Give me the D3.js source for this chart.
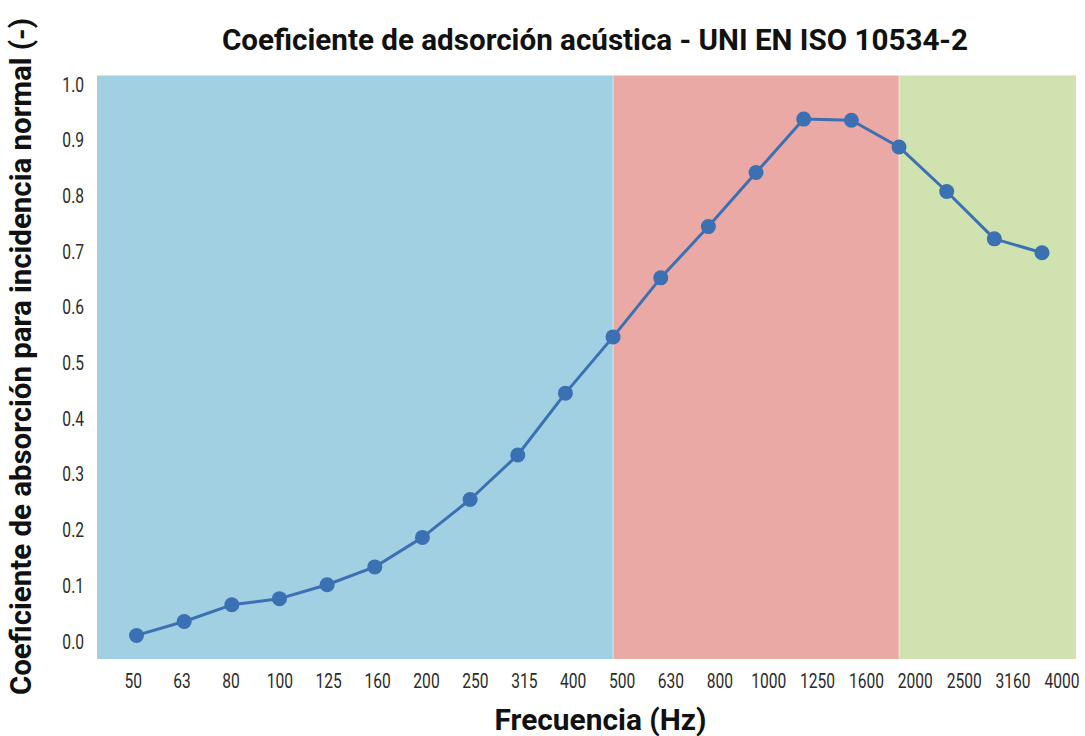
<!DOCTYPE html>
<html>
<head>
<meta charset="utf-8">
<script src="https://cdn.jsdelivr.net/npm/d3@7"></script>
<style>
  html, body { margin: 0; padding: 0; background: #fff; }
  svg { display: block; font-family: Roboto, "Liberation Sans", sans-serif; }
</style>
</head>
<body>
<svg id="chart" width="1085" height="736"></svg>
<script>
// Frequency bands (Hz) and measured normal-incidence absorption coefficient
const frequencies = ["50", "63", "80", "100", "125", "160", "200", "250", "315", "400",
                     "500", "630", "800", "1000", "1250", "1600", "2000", "2500", "3160", "4000"];
const absorption = [0.010, 0.035, 0.065, 0.076, 0.101, 0.133, 0.186, 0.254, 0.334, 0.445,
                    0.546, 0.652, 0.744, 0.841, 0.937, 0.935, 0.887, 0.807, 0.722, 0.697];
const yTicks = [0, 0.1, 0.2, 0.3, 0.4, 0.5, 0.6, 0.7, 0.8, 0.9, 1.0];

// Shaded frequency ranges: low / mid / high
const rangeEdges = ["500", "2000"];
const rangeColors = ["#a0d0e2", "#eba9a5", "#cfe2b0"];

const titleText = "Coeficiente de adsorción acústica - UNI EN ISO 10534-2";
const xTitleText = "Frecuencia (Hz)";
const yTitleText = "Coeficiente de absorción para incidencia normal (-)";

const svg = d3.select("#chart");
const plot = { left: 97, right: 1076, top: 75.5, bottom: 659 };

const x = d3.scalePoint().domain(frequencies).range([136.5, 1042]);
const xLabels = d3.scalePoint().domain(frequencies).range([132.7, 1061.5]);
const y = d3.scaleLinear().domain([0, 1]).range([641, 84]);

// background ranges
const edges = [plot.left, ...rangeEdges.map(f => x(f)), plot.right];
svg.append("g").selectAll("rect")
  .data(rangeColors)
  .join("rect")
  .attr("x", (d, i) => edges[i])
  .attr("width", (d, i) => edges[i + 1] - edges[i])
  .attr("y", plot.top)
  .attr("height", plot.bottom - plot.top)
  .attr("fill", d => d);

svg.append("g").selectAll("line")
  .data(rangeEdges)
  .join("line")
  .attr("x1", d => x(d)).attr("x2", d => x(d))
  .attr("y1", plot.top).attr("y2", plot.bottom)
  .attr("stroke", "#fff").attr("stroke-opacity", 0.5).attr("stroke-width", 1);

// y axis labels (horizontally condensed around their anchor)
const yAxis = svg.append("g")
  .attr("transform", `translate(84,0)`)
  .call(d3.axisLeft(y).tickValues(yTicks).tickFormat(d3.format(".1f")).tickSize(0).tickPadding(0));
yAxis.select(".domain").remove();
yAxis.selectAll("text")
  .attr("font-family", "Roboto, sans-serif")
  .attr("font-size", 19.5)
  .attr("fill", "#2b2b2b")
  .attr("x", 0)
  .attr("dy", "0.36em")
  .attr("transform", "scale(0.8,1)");

// x axis labels
const xAxis = svg.append("g")
  .attr("transform", `translate(0,687.5)`)
  .call(d3.axisBottom(xLabels).tickSize(0).tickPadding(0));
xAxis.select(".domain").remove();
xAxis.selectAll("text")
  .attr("font-family", "Roboto, sans-serif")
  .attr("font-size", 19.5)
  .attr("fill", "#2b2b2b")
  .attr("y", 0)
  .attr("dy", null)
  .attr("transform", "scale(0.8,1)");

// absorption curve
const line = d3.line().x((d, i) => x(frequencies[i])).y(d => y(d));
svg.append("path")
  .datum(absorption)
  .attr("d", line)
  .attr("fill", "none")
  .attr("stroke", "#3b70b3")
  .attr("stroke-width", 3)
  .attr("stroke-linejoin", "round");

svg.append("g").selectAll("circle")
  .data(absorption)
  .join("circle")
  .attr("cx", (d, i) => x(frequencies[i]))
  .attr("cy", d => y(d))
  .attr("r", 7.5)
  .attr("fill", "#3b70b3");

// titles
svg.append("text")
  .attr("x", 595).attr("y", 50)
  .attr("text-anchor", "middle")
  .attr("font-size", 29.5).attr("font-weight", 700).attr("fill", "#111")
  .attr("textLength", 746).attr("lengthAdjust", "spacingAndGlyphs")
  .text(titleText);

svg.append("text")
  .attr("x", 600.5).attr("y", 730)
  .attr("text-anchor", "middle")
  .attr("font-size", 29.5).attr("font-weight", 700).attr("fill", "#111")
  .attr("textLength", 212).attr("lengthAdjust", "spacingAndGlyphs")
  .text(xTitleText);

svg.append("text")
  .attr("transform", "translate(31,356.5) rotate(-90)")
  .attr("text-anchor", "middle")
  .attr("font-size", 29.5).attr("font-weight", 700).attr("fill", "#111")
  .attr("textLength", 677).attr("lengthAdjust", "spacingAndGlyphs")
  .text(yTitleText);
</script>
</body>
</html>
